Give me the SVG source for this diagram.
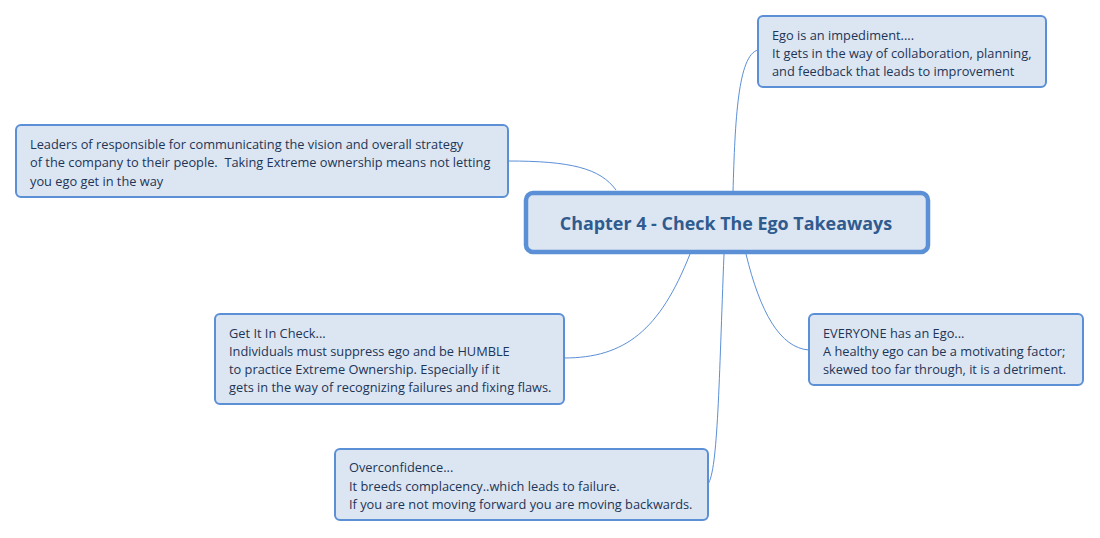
<svg xmlns="http://www.w3.org/2000/svg" width="1100" height="538" viewBox="0 0 1100 538">
<style>
.box{fill:#dce6f2;stroke:#5b8fd6;stroke-width:2}
.main{fill:#dce6f2;stroke:#5b8fd6;stroke-width:4.5}
.t{font-family:"Open Sans","Noto Sans",sans-serif;font-size:12.8px;fill:#1d3557}
.title{font-family:"Open Sans","Noto Sans",sans-serif;font-size:17.9px;font-weight:bold;fill:#2f5b8f}
.c{fill:none;stroke:#5b8fd6;stroke-width:1}
</style>
<rect width="1100" height="538" fill="#ffffff"/>
<g id="connectors">
<path class="c" d="M733,192 C735,120 738,55 758,50"/>
<path class="c" d="M616,190 C600,168 570,161 508,161"/>
<path class="c" d="M690,254 C660,330 625,358 564,358"/>
<path class="c" d="M724,254 C719,380 718,470 708,484"/>
<path class="c" d="M746,254 C760,312 780,348 809,350"/>
</g>
<g id="central">
<rect class="main" x="526" y="193" width="402" height="59" rx="7"/>
<text class="title" x="726" y="230" text-anchor="middle">Chapter 4 - Check The Ego Takeaways</text>
</g>
<g id="ego">
<rect class="box" x="758" y="16" width="288" height="71" rx="5"/>
<text class="t" x="772" y="40">Ego is an impediment....</text>
<text class="t" x="772" y="58">It gets in the way of collaboration, planning,</text>
<text class="t" x="772" y="76">and feedback that leads to improvement</text>
</g>
<g id="leaders">
<rect class="box" x="16" y="125" width="492" height="72" rx="5"/>
<text class="t" x="30" y="149">Leaders of responsible for communicating the vision and overall strategy</text>
<text class="t" x="30" y="167" xml:space="preserve">of the company to their people.  Taking Extreme ownership means not letting</text>
<text class="t" x="30" y="186">you ego get in the way</text>
</g>
<g id="check">
<rect class="box" x="215" y="314" width="349" height="90" rx="5"/>
<text class="t" x="229" y="338">Get It In Check...</text>
<text class="t" x="229" y="356">Individuals must suppress ego and be HUMBLE</text>
<text class="t" x="229" y="374">to practice Extreme Ownership. Especially if it</text>
<text class="t" x="229" y="392">gets in the way of recognizing failures and fixing flaws.</text>
</g>
<g id="overconfidence">
<rect class="box" x="335" y="449" width="373" height="71" rx="5"/>
<text class="t" x="349" y="472">Overconfidence...</text>
<text class="t" x="349" y="491">It breeds complacency..which leads to failure.</text>
<text class="t" x="349" y="509">If you are not moving forward you are moving backwards.</text>
</g>
<g id="everyone">
<rect class="box" x="809" y="314" width="274" height="71" rx="5"/>
<text class="t" x="823" y="338">EVERYONE has an Ego...</text>
<text class="t" x="823" y="356">A healthy ego can be a motivating factor;</text>
<text class="t" x="823" y="374">skewed too far through, it is a detriment.</text>
</g>
</svg>
